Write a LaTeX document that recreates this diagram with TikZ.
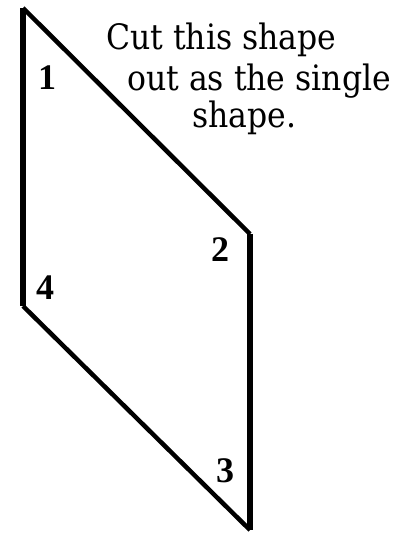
\documentclass[tikz,border=0pt]{standalone}
\usepackage{fontspec}
\setmainfont{DejaVu Serif}
\newfontfamily\capfont[FakeStretch=0.9]{DejaVu Serif}
\newfontfamily\numfont{Liberation Serif}
\begin{document}
\begin{tikzpicture}[x=1pt,y=-1pt,
  vert/.style={line width=6.5pt,line cap=butt},
  diag/.style={line width=4.5pt,line cap=butt},
  caption/.style={anchor=base west,inner sep=0pt,font=\capfont\fontsize{35}{35}\selectfont},
  num/.style={inner sep=0pt,font=\numfont\bfseries\fontsize{36}{36}\selectfont}]
\useasboundingbox (0,0) rectangle (416,533);
\fill[white] (0,0) rectangle (416,533);
\coordinate (v1) at (23,8);
\coordinate (v2) at (250,234);
\coordinate (v3) at (250,530);
\coordinate (v4) at (23,306);
\draw[diag] (v1) -- (v2);
\draw[diag] (v4) -- (v3);
\draw[vert] (v1) -- (v4);
\draw[vert] (v2) -- (v3);
\node[num] (n1) at (47,78) {1};
\node[num] (n2) at (220,250) {2};
\node[num] (n4) at (45,288) {4};
\node[num] (n3) at (225,471) {3};
\node[caption] (t1) at (106,49) {Cut this shape};
\node[caption] (t2) at (127,90) {out as the single};
\node[caption] (t3) at (192,127) {shape.};
\end{tikzpicture}
\end{document}
